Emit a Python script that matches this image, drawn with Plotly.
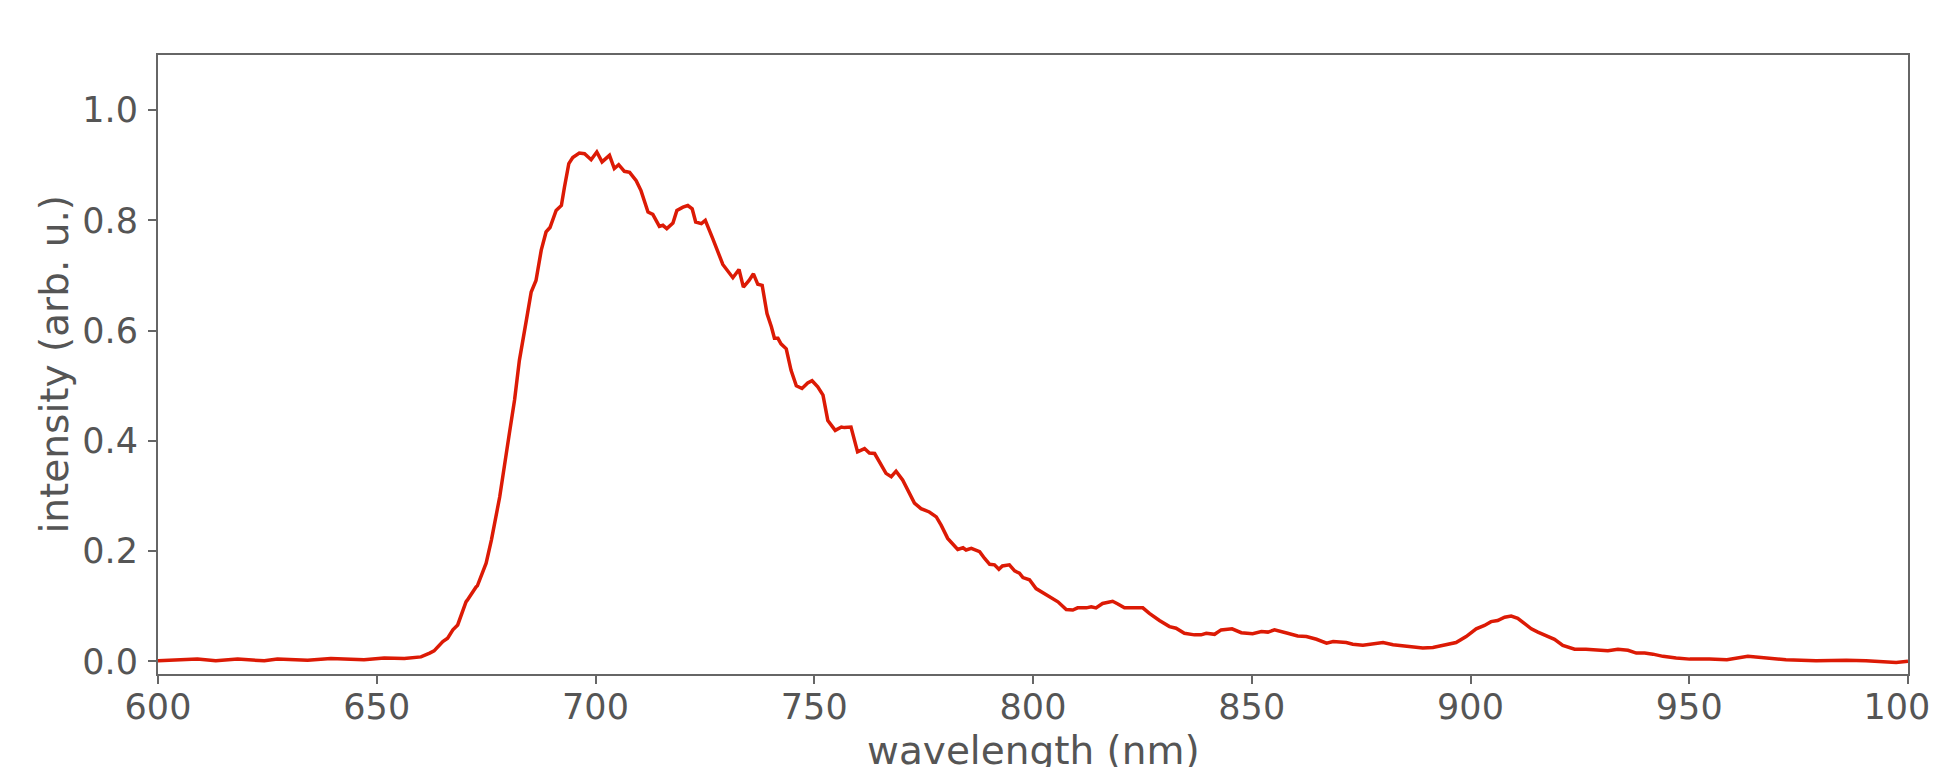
import plotly.graph_objects as go

wavelength = [
    600.0, 609.0, 613.2, 618.2, 624.3, 627.3, 634.2, 639.5, 647.1, 651.7, 656.3, 660.1,
    662.1, 663.1, 665.1, 666.2, 667.4, 668.5, 670.4, 670.7, 672.7, 673.0, 675.0, 676.2,
    678.1, 679.2, 680.3, 681.5, 682.6, 684.2, 685.3, 686.4, 687.6, 688.7, 689.6, 691.0,
    692.2, 692.9, 693.9, 694.8, 696.3, 697.5, 699.0, 700.3, 701.5, 703.2, 704.3, 705.3,
    706.6, 707.8, 709.3, 710.4, 712.0, 713.1, 714.6, 715.4, 716.3, 717.7, 718.6, 720.0,
    721.1, 722.1, 722.9, 724.2, 725.1, 726.8, 728.0, 729.1, 731.4, 732.8, 733.8, 735.1,
    736.1, 737.1, 738.1, 739.2, 740.2, 740.9, 741.7, 742.4, 743.6, 744.7, 745.9, 747.2,
    748.5, 749.5, 750.8, 752.0, 753.1, 754.8, 756.2, 756.9, 758.4, 759.9, 761.5, 762.6,
    763.8, 765.3, 766.4, 767.6, 768.7, 770.2, 771.4, 772.9, 774.4, 776.3, 777.9, 779.0,
    780.5, 782.8, 784.0, 784.7, 785.9, 787.8, 788.9, 790.1, 791.2, 792.2, 793.0, 794.6,
    795.8, 796.9, 797.7, 799.2, 800.7, 802.6, 804.5, 805.7, 807.6, 809.1, 810.2, 812.2,
    813.3, 814.4, 815.9, 818.2, 819.4, 820.9, 822.4, 825.1, 826.6, 828.9, 831.2, 832.7,
    834.6, 836.9, 838.4, 839.6, 841.5, 843.0, 845.5, 847.6, 850.2, 852.2, 853.7, 855.2,
    858.2, 860.5, 862.5, 864.8, 867.1, 868.6, 871.6, 873.1, 875.4, 877.7, 880.0, 882.3,
    886.1, 889.1, 891.4, 894.4, 896.7, 899.0, 901.3, 903.2, 904.7, 906.2, 907.8, 909.3,
    910.8, 912.3, 913.9, 915.4, 917.3, 919.2, 921.1, 923.8, 926.4, 928.7, 931.4, 933.7,
    936.0, 937.9, 939.8, 941.7, 944.0, 947.0, 950.1, 954.6, 958.6, 963.4, 968.3, 972.1,
    979.0, 985.9, 990.4, 995.0, 997.3, 1000.0,
]
intensity = [
    0.001, 0.004, 0.001, 0.004, 0.001, 0.004, 0.002, 0.005, 0.003, 0.006, 0.005, 0.008,
    0.015, 0.019, 0.036, 0.042, 0.057, 0.066, 0.108, 0.111, 0.135, 0.137, 0.178, 0.220,
    0.298, 0.359, 0.413, 0.474, 0.546, 0.619, 0.670, 0.691, 0.746, 0.779, 0.787, 0.818,
    0.827, 0.860, 0.903, 0.914, 0.922, 0.921, 0.910, 0.924, 0.906, 0.918, 0.894, 0.901,
    0.889, 0.887, 0.872, 0.854, 0.815, 0.811, 0.789, 0.791, 0.785, 0.795, 0.818, 0.824,
    0.827, 0.821, 0.797, 0.794, 0.800, 0.767, 0.740, 0.720, 0.696, 0.711, 0.679, 0.691,
    0.703, 0.684, 0.682, 0.631, 0.607, 0.586, 0.586, 0.576, 0.567, 0.528, 0.500, 0.495,
    0.505, 0.509, 0.498, 0.483, 0.437, 0.419, 0.425, 0.424, 0.425, 0.380, 0.386, 0.378,
    0.377, 0.356, 0.341, 0.335, 0.345, 0.329, 0.311, 0.287, 0.277, 0.271, 0.262, 0.247,
    0.223, 0.203, 0.206, 0.202, 0.205, 0.199, 0.187, 0.176, 0.175, 0.167, 0.173, 0.175,
    0.164, 0.160, 0.152, 0.148, 0.132, 0.123, 0.114, 0.108, 0.094, 0.093, 0.097, 0.097,
    0.099, 0.097, 0.105, 0.109, 0.104, 0.097, 0.097, 0.097, 0.087, 0.074, 0.063, 0.060,
    0.051, 0.048, 0.048, 0.051, 0.049, 0.057, 0.059, 0.052, 0.050, 0.054, 0.053, 0.057,
    0.051, 0.046, 0.045, 0.040, 0.033, 0.036, 0.034, 0.031, 0.029, 0.032, 0.034, 0.030,
    0.027, 0.024, 0.025, 0.030, 0.034, 0.045, 0.059, 0.065, 0.072, 0.074, 0.080, 0.082,
    0.078, 0.069, 0.059, 0.053, 0.046, 0.040, 0.029, 0.022, 0.022, 0.021, 0.019, 0.022,
    0.020, 0.015, 0.015, 0.013, 0.009, 0.006, 0.004, 0.004, 0.003, 0.009, 0.006, 0.003,
    0.001, 0.002, 0.001, 0.000, -0.002, 0.000,
]

x_ticks = [600, 650, 700, 750, 800, 850, 900, 950, 1000]
y_ticks = [0.0, 0.2, 0.4, 0.6, 0.8, 1.0]
x_title = "wavelength (nm)"
y_title = "intensity (arb. u.)"

TEXT = "#555555"
SPINE = "#666666"
FONT = "DejaVu Sans"

fig = go.Figure()
fig.add_trace(go.Scatter(
    x=wavelength, y=intensity, mode="lines",
    line=dict(color="#dc1a05", width=3.5), showlegend=False,
))

axis_common = dict(
    showline=True, linecolor=SPINE, linewidth=2, mirror=True,
    showgrid=False, zeroline=False,
    ticks="outside", ticklen=8, tickwidth=2, tickcolor=SPINE,
    tickfont=dict(family=FONT, size=35, color=TEXT),
    automargin=False, ticklabeloverflow="allow",
)

fig.update_layout(
    width=1939, height=767,
    margin=dict(l=150, r=39, t=47, b=101),
    paper_bgcolor="white", plot_bgcolor="white",
    template="none",
    xaxis=dict(
        range=[600, 1000], tickvals=x_ticks, ticktext=[str(v) for v in x_ticks],
        ticklabelstandoff=-7,
        **axis_common,
    ),
    yaxis=dict(
        range=[-0.023, 1.1], tickvals=y_ticks, ticktext=[f"{v:.1f}" for v in y_ticks],
        ticklabelstandoff=3,
        **axis_common,
    ),
    annotations=[
        dict(text=x_title, xref="paper", yref="paper", x=0.5, y=0,
             xanchor="center", yanchor="top", yshift=-52, showarrow=False,
             font=dict(family=FONT, size=39, color=TEXT)),
        dict(text=y_title, xref="paper", yref="paper", x=0, y=0.5,
             xanchor="center", yanchor="middle", xshift=-104, textangle=-90,
             showarrow=False, font=dict(family=FONT, size=39, color=TEXT)),
    ],
)

fig.write_html("out.html")
